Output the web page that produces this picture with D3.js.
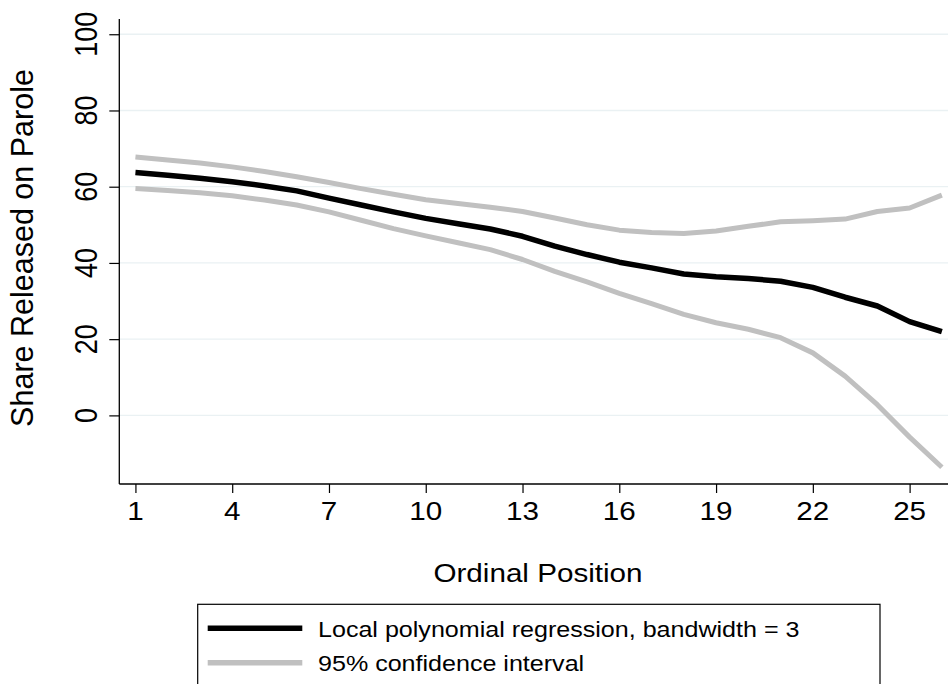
<!DOCTYPE html>
<html>
<head>
<meta charset="utf-8">
<script src="https://cdn.jsdelivr.net/npm/d3@7"></script>
<style>
  html, body { margin: 0; padding: 0; background: #fff; }
  svg { display: block; }
  text { font-family: "Liberation Sans", Arial, Helvetica, sans-serif; fill: #000; }
</style>
</head>
<body>
<svg id="chart" width="948" height="684"></svg>
<script>
// ---- data ----
const positions = [1,2,3,4,5,6,7,8,9,10,11,12,13,14,15,16,17,18,19,20,21,22,23,24,25,26];
const fitValues = [63.7,63.0,62.2,61.3,60.2,58.9,57.0,55.2,53.4,51.7,50.3,48.9,47.0,44.4,42.2,40.2,38.7,37.1,36.4,35.9,35.2,33.6,31.0,28.7,24.6,22.0];
const upperCI   = [67.8,67.0,66.2,65.2,64.0,62.6,61.1,59.5,58.0,56.6,55.6,54.6,53.5,51.8,50.0,48.6,48.0,47.7,48.4,49.6,50.8,51.1,51.5,53.5,54.4,57.8];
const lowerCI   = [59.5,59.0,58.4,57.6,56.5,55.2,53.4,51.2,49.0,47.1,45.3,43.5,40.9,37.8,35.0,32.0,29.3,26.5,24.3,22.6,20.4,16.4,10.3,2.8,-5.7,-13.6];
const xTicks = [1,4,7,10,13,16,19,22,25];
const yTicks = [0,20,40,60,80,100];
const legendLabels = ["Local polynomial regression, bandwidth = 3", "95% confidence interval"];
const xTitle = "Ordinal Position";
const yTitle = "Share Released on Parole";

// ---- layout ----
const svg = d3.select("#chart");
const SX = 1.14; // horizontal stretch of the original raster text
const pLeft = 119.3, pRight = 958, pTop = 19, pBottom = 484;
const x = d3.scaleLinear().domain([0.5, 26.5]).range([pLeft, pRight]);
const y = d3.scaleLinear().domain([-18, 104]).range([pBottom, pTop]);

const black = "#000000", grey = "#c0c0c0", gridCol = "#eaf1f3";

// grid
svg.append("g").selectAll("line").data(yTicks).join("line")
  .attr("x1", pLeft).attr("x2", pRight)
  .attr("y1", d => y(d)).attr("y2", d => y(d))
  .attr("stroke", gridCol).attr("stroke-width", 1.3);

// lines
const line = d3.line().x((d,i) => x(positions[i])).y(d => y(d)).curve(d3.curveLinear);
[[upperCI, grey, 5], [lowerCI, grey, 5], [fitValues, black, 5.5]].forEach(([vals, col, w]) => {
  svg.append("path").datum(vals).attr("d", line)
    .attr("fill", "none").attr("stroke", col).attr("stroke-width", w)
    .attr("stroke-linejoin", "round").attr("stroke-linecap", "butt");
});

// axes
const xAxis = d3.axisBottom(x).tickValues(xTicks).tickSize(9).tickFormat("");
const gx = svg.append("g").attr("transform", `translate(0,${pBottom})`).call(xAxis);
gx.select(".domain").attr("stroke", "#000").attr("stroke-width", 1.3).attr("d", `M${pLeft},0H${pRight}`);
gx.selectAll(".tick line").attr("stroke", "#000").attr("stroke-width", 1.2);

const yAxis = d3.axisLeft(y).tickValues(yTicks).tickSize(10).tickFormat("");
const gy = svg.append("g").attr("transform", `translate(${pLeft},0)`).call(yAxis);
gy.select(".domain").attr("stroke", "#000").attr("stroke-width", 1.3).attr("d", `M0,${pTop}V${pBottom}`);
gy.selectAll(".tick line").attr("stroke", "#000").attr("stroke-width", 1.2);

// tick labels
svg.append("g").selectAll("text").data(xTicks).join("text")
  .attr("transform", d => `translate(${x(d)},520) scale(${SX},1)`)
  .attr("text-anchor", "middle").style("font-size", "26px").text(d => d);

svg.append("g").selectAll("text").data(yTicks).join("text")
  .attr("transform", d => `translate(97,${y(d)}) scale(${SX},1) rotate(-90)`)
  .attr("text-anchor", "middle").style("font-size", "27px").text(d => d);

// axis titles
svg.append("text").attr("transform", `translate(538,582) scale(${SX},1)`)
  .attr("text-anchor", "middle").style("font-size", "26px").text(xTitle);
svg.append("text").attr("transform", `translate(33,248) rotate(-90)`)
  .attr("text-anchor", "middle").style("font-size", "30.5px").text(yTitle);

// legend
const lg = svg.append("g");
lg.append("rect").attr("x", 197.7).attr("y", 604.3).attr("width", 682.3).attr("height", 120)
  .attr("fill", "#fff").attr("stroke", "#000").attr("stroke-width", 1.2);
const legendItems = [[black, 5.5, 628.3], [grey, 5.5, 662.7]];
legendItems.forEach(([col, w, ly], i) => {
  lg.append("line").attr("x1", 207.7).attr("x2", 302.3).attr("y1", ly).attr("y2", ly)
    .attr("stroke", col).attr("stroke-width", w);
  lg.append("text").attr("transform", `translate(318,${ly + 8.4}) scale(${SX},1)`)
    .style("font-size", "22px").text(legendLabels[i]);
});
</script>
</body>
</html>
